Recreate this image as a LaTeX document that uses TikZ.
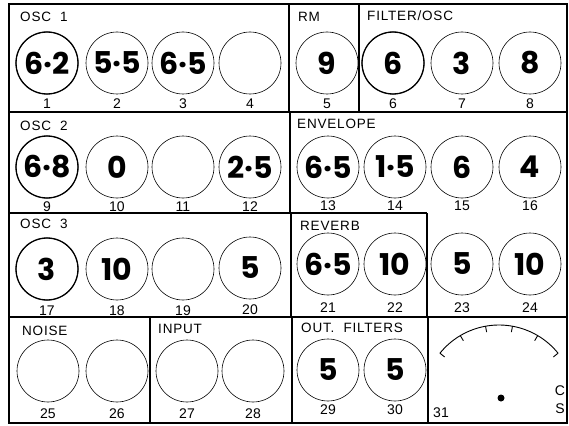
\documentclass[tikz,border=0pt]{standalone}
\usepackage{fontspec}
\usepackage{tikz}
\usetikzlibrary{positioning}
\newfontfamily\lblfont{Liberation Sans}[LetterSpace=6]
\newfontfamily\numfont{Liberation Sans}
\newfontfamily\handfont{Poppins}

\begin{document}
\begin{tikzpicture}[x=1pt,y=-1pt,
	knob/.style={circle,draw,line width=0.6pt,minimum size=62pt,inner sep=0pt,
		font=\handfont\bfseries\fontsize{30}{30}\selectfont},
	panel/.style={anchor=base west,inner sep=0pt,font=\lblfont\fontsize{13.5}{14}\selectfont},
	knobnum/.style={anchor=base,inner sep=0pt,font=\numfont\fontsize{14}{14}\selectfont}]
	\useasboundingbox (0,0) rectangle (569,425);

	% outer frame
	\draw[line width=1.6pt] (9,4) rectangle (567,423);

	% panel dividers
	\draw[line width=1.1pt] (9,112) -- (567,112);
	\draw[line width=1.1pt] (289,4) -- (289,112);
	\draw[line width=1.1pt] (359,4) -- (359,112);
	\draw[line width=1.1pt] (290,112) -- (290,213);
	\draw[line width=1.1pt] (9,213) -- (427,213);
	\draw[line width=1.1pt] (291,213) -- (291,317);
	\draw[line width=1.1pt] (427,213) -- (427,317);
	\draw[line width=1.1pt] (9,317) -- (567,317);
	\draw[line width=1.1pt] (150,317) -- (150,423);
	\draw[line width=1.1pt] (292,317) -- (292,423);
	\draw[line width=1.6pt] (428,317) rectangle (567,423);

	% knobs with settings and numbers
	\foreach \i/\x/\y/\v/\b in {1/47/63/6·2/108, 2/117/63/5·5/108, 3/183/63/6·5/108, 4/250/63/{}/108,
		5/327/63/9/108, 6/393/63/6/108, 7/462/63/3/108, 8/530/63/8/108,
		9/47/167/6·8/211, 10/117/167/0/211, 11/183/167/{}/211, 12/250/167/2·5/211,
		13/328/167/6·5/210, 14/395/167/1·5/210, 15/462/167/6/210, 16/530/167/4/210,
		17/47/269/3/315, 18/117/269/10/315, 19/183/269/{}/315, 20/250/268/5/314,
		21/328/264/6·5/312, 22/395/264/10/312, 23/462/264/5/312, 24/530/264/10/312,
		25/48/371/{}/418, 26/117/371/{}/418, 27/187/371/{}/418, 28/253/371/{}/418,
		29/328/370/5/414, 30/395/370/5/414}{
		\node[knob] (k\i) at (\x,\y) {\v};
		\node[knobnum] (n\i) at (\x,\b) {\i};
	}
	% heavier rings
	\foreach \i in {1,6,9,17} \draw[line width=1.3pt] (k\i.center) circle[radius=31pt];

	% panel names
	\node[panel] (osc1) at (20,22) {OSC~~1};
	\node[panel] (rm) at (298,22) {RM};
	\node[panel] (filt) at (367,21) {FILTER/OSC};
	\node[panel] (osc2) at (20,130) {OSC~~2};
	\node[panel] (env) at (297,128) {ENVELOPE};
	\node[panel] (osc3) at (20,228) {OSC~~3};
	\node[panel] (rev) at (300,230) {REVERB};
	\node[panel] (noise) at (22,335) {NOISE};
	\node[panel] (input) at (158,333) {INPUT};
	\node[panel] (outf) at (301,332) {OUT.~~FILTERS};

	% meter 31
	\begin{scope}[shift={(499,401)}]
		\draw[line width=0.9pt] plot[domain=-141:-39,samples=40] (\x:76);
		\foreach \a in {-39,-59.4,-79.8,-100.2,-120.6,-141} \draw[line width=0.9pt] (\a:76) -- (\a:70);
	\end{scope}
	\fill (501,398) circle[radius=3.5pt];
	\node[knobnum] (n31) at (441,417) {31};
	\node[knobnum] (dialc) at (560,395) {C};
	\node[knobnum] (dials) at (560,413) {S};
\end{tikzpicture}
\end{document}
